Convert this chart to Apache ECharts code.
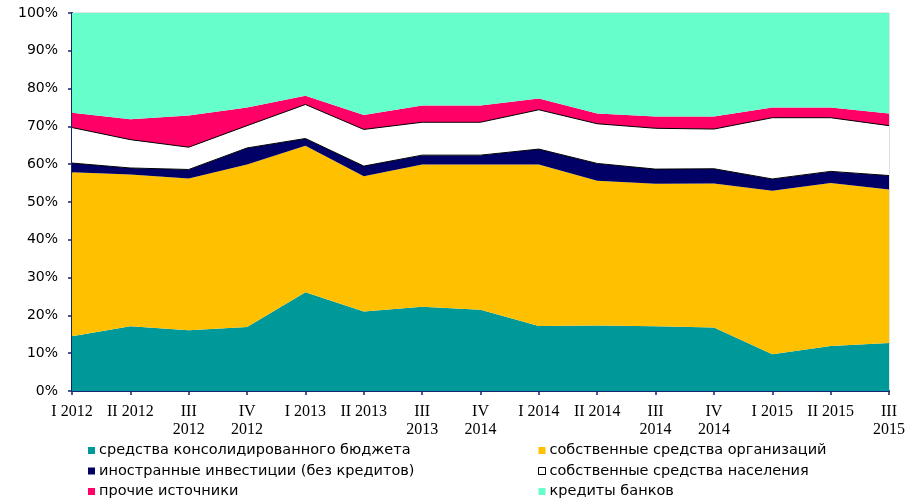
<!DOCTYPE html>
<html>
<head>
<meta charset="utf-8">
<script src="https://cdn.jsdelivr.net/npm/echarts@6/dist/echarts.min.js"></script>
<style>
  html, body { margin: 0; padding: 0; background: #fff; }
  #chart { width: 919px; height: 499px; }
</style>
</head>
<body>
<div id="chart"></div>
<script>
// кварталы
const quarters = ['I 2012', 'II 2012', 'III 2012', 'IV 2012', 'I 2013', 'II 2013', 'III 2013', 'IV 2014',
  'I 2014', 'II 2014', 'III 2014', 'IV 2014', 'I 2015', 'II 2015', 'III 2015'];

// доли источников, %
const budget = [14.5, 17.1, 16.1, 16.9, 26.1, 21.0, 22.3, 21.5, 17.2, 17.3, 17.1, 16.8, 9.7, 11.9, 12.7];
const orgs = [43.4, 40.2, 40.1, 43.0, 38.8, 35.8, 37.6, 38.4, 42.7, 38.3, 37.7, 38.1, 43.3, 43.1, 40.6];
const foreign = [2.4, 1.7, 2.4, 4.4, 1.9, 2.7, 2.5, 2.5, 4.1, 4.6, 3.9, 3.9, 3.1, 3.1, 3.7];
const population = [9.4, 7.5, 5.9, 5.9, 9.0, 9.7, 8.7, 8.7, 10.4, 10.5, 10.8, 10.5, 16.2, 14.2, 13.2];
const other = [3.9, 5.4, 8.4, 4.8, 2.3, 3.8, 4.4, 4.4, 3.0, 2.7, 3.1, 3.3, 2.7, 2.7, 3.2];
const banks = [26.4, 28.1, 27.1, 25.0, 21.9, 27.0, 24.5, 24.5, 22.6, 26.6, 27.4, 27.4, 25.0, 25.0, 26.6];

const yTicks = [0, 10, 20, 30, 40, 50, 60, 70, 80, 90, 100];

const myChart = echarts.init(document.getElementById('chart'));

const axisColor = '#14246e';
const legendFont = "'DejaVu Sans', sans-serif";

function area(name, data, color, line) {
    return {
        name: name,
        type: 'line',
        stack: 'total',
        data: data,
        showSymbol: false,
        symbol: 'none',
        itemStyle: { color: color },
        lineStyle: line ? { color: '#000', width: 1 } : { width: 0 },
        areaStyle: { color: color, opacity: 1 }
    };
}

function legendCol(left, names) {
    return {
        left: left, top: 443, height: 60, padding: 0,
        orient: 'vertical', itemGap: 5.5,
        itemWidth: 7, itemHeight: 7, icon: 'rect', itemStyle: { borderWidth: 0 },
        textStyle: { color: '#000', fontFamily: legendFont, fontSize: 14.5, lineHeight: 14, padding: [0, 0, 0, -1] },
        data: names
    };
}

const option = {
    animation: false,
    grid: {
        left: 72, right: 30, top: 13, bottom: 108,
        show: true, borderColor: '#c4c4c4', borderWidth: 1, backgroundColor: 'transparent'
    },
    xAxis: {
        type: 'category',
        data: quarters,
        boundaryGap: false,
        axisLine: { lineStyle: { color: axisColor, width: 2 } },
        axisTick: { length: 4, lineStyle: { color: axisColor, width: 1.5 } },
        axisLabel: {
            interval: 0,
            margin: 12,
            color: '#000',
            fontFamily: "'Liberation Serif', serif",
            fontSize: 16,
            lineHeight: 18,
            formatter: function (v) {
                return /^(III|IV) /.test(v) ? v.replace(' ', '\n') : v;
            }
        },
        splitLine: { show: false }
    },
    yAxis: {
        type: 'value',
        min: yTicks[0],
        max: yTicks[yTicks.length - 1],
        interval: 10,
        axisLine: { show: true, lineStyle: { color: axisColor, width: 2 } },
        axisTick: { show: true, length: 4, lineStyle: { color: axisColor, width: 1.5 } },
        axisLabel: {
            margin: 14,
            color: '#000',
            fontFamily: "'DejaVu Sans', sans-serif",
            fontSize: 14,
            formatter: '{value}%'
        },
        splitLine: { show: false }
    },
    legend: [
        legendCol(88, ['средства консолидированного бюджета', 'иностранные инвестиции (без кредитов)', 'прочие источники']),
        legendCol(538, [
            'собственные средства организаций',
            { name: 'собственные средства населения', itemStyle: { color: '#fff', borderColor: '#000', borderWidth: 1 } },
            'кредиты банков'
        ])
    ],
    series: [
        area('средства консолидированного бюджета', budget, '#009999', false),
        area('собственные средства организаций', orgs, '#ffc000', false),
        area('иностранные инвестиции (без кредитов)', foreign, '#000066', true),
        area('собственные средства населения', population, '#ffffff', true),
        area('прочие источники', other, '#ff0066', false),
        area('кредиты банков', banks, '#66ffcc', false)
    ]
};

myChart.setOption(option);
</script>
</body>
</html>
